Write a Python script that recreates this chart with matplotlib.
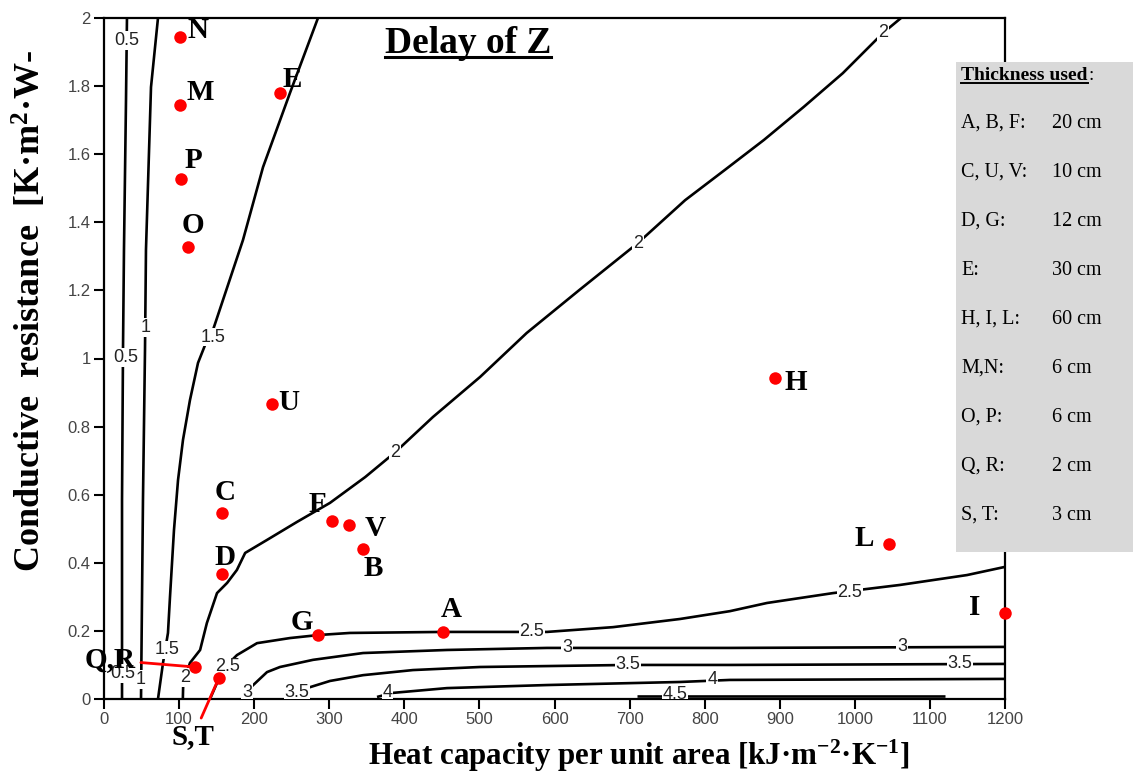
import numpy as np
import matplotlib
matplotlib.use('Agg')
import matplotlib.pyplot as plt
from matplotlib.patches import Rectangle
from matplotlib.lines import Line2D

plt.rcParams['mathtext.fontset'] = 'custom'
plt.rcParams['mathtext.rm'] = 'Liberation Serif:bold'
plt.rcParams['mathtext.bf'] = 'Liberation Serif:bold'
plt.rcParams['mathtext.it'] = 'Liberation Serif:bold'

SERIF = ['Liberation Serif', 'DejaVu Serif']
NARROW = ['Liberation Sans Narrow', 'Liberation Sans', 'DejaVu Sans']

# --- data ---
# iso-lines of the delay (hours), heat capacity [kJ/m2K] vs conductive resistance
c05_x = [30.6, 29.3, 26.6, 25.3, 24.0, 24.0]
c05_y = [2.0, 1.759, 1.319, 1.025, 0.584, 0.0]
c1_x = [71.9, 62.6, 55.9, 54.6, 51.9, 49.3]
c1_y = [2.0, 1.797, 1.319, 1.025, 0.584, 0.0]
c15_x = [285.0, 247.7, 211.8, 185.1, 158.5, 145.2, 137.2, 125.2, 114.5, 105.2, 98.6, 93.2, 87.9, 85.2, 78.6, 71.9]
c15_y = [2.0, 1.780, 1.562, 1.348, 1.172, 1.084, 1.054, 0.987, 0.878, 0.761, 0.643, 0.496, 0.300, 0.194, 0.106, 0.0]
c2_x = [105.0, 105.5, 114.5, 128, 137, 150.5, 164, 177, 188, 217, 257, 301, 348, 388, 438, 501, 563, 633, 711,
        774, 827, 879, 932, 984, 1037.5, 1061.5]
c2_y = [0.0, 0.045, 0.106, 0.144, 0.223, 0.311, 0.341, 0.379, 0.429, 0.467, 0.520, 0.576, 0.652, 0.725, 0.828,
        0.946, 1.075, 1.201, 1.339, 1.465, 1.554, 1.642, 1.739, 1.838, 1.956, 2.0]
c25_x = [141.2, 150.5, 162.5, 177.1, 203.8, 247.7, 286.3, 327.6, 451.5, 590.0, 677.9, 767.2, 833.7, 883.0,
         970.9, 1060.2, 1149.4, 1200]
c25_y = [0.0, 0.047, 0.097, 0.129, 0.164, 0.179, 0.188, 0.194, 0.197, 0.197, 0.211, 0.235, 0.258, 0.282,
         0.311, 0.335, 0.364, 0.388]
c3_x = [194.4, 217.1, 234.4, 278.4, 345.0, 456.8, 590.0, 833.7, 1200]
c3_y = [0.032, 0.079, 0.094, 0.115, 0.135, 0.144, 0.150, 0.150, 0.153]
c35_x = [270.4, 301.0, 345.0, 411.5, 500.8, 697.9, 833.7, 1200]
c35_y = [0.032, 0.053, 0.070, 0.085, 0.094, 0.100, 0.100, 0.103]
c4_x = [363.6, 384.9, 456.8, 590.0, 767.2, 833.7, 1200]
c4_y = [0.006, 0.018, 0.032, 0.041, 0.050, 0.056, 0.059]
c45_x = [710, 1120]
c45_y = [0.009, 0.009]

levels = ['0.5', '1', '1.5', '2', '2.5', '3', '3.5', '4', '4.5']
lines_x = [c05_x, c1_x, c15_x, c2_x, c25_x, c3_x, c35_x, c4_x, c45_x]
lines_y = [c05_y, c1_y, c15_y, c2_y, c25_y, c3_y, c35_y, c4_y, c45_y]

# where each iso-line carries its inline label
label_at = {
    '0.5': [(30.6, 1.935), (29.3, 1.004), (25.0, 0.076)],
    '1': [(55.9, 1.09), (49.3, 0.058)],
    '1.5': [(145.2, 1.063), (84.5, 0.144)],
    '2': [(107.9, 0.062), (387.6, 0.725), (711.2, 1.339), (1037.5, 1.956)],
    '2.5': [(164.0, 0.094), (570.0, 0.197), (993.6, 0.314)],
    '3': [(190.5, 0.02), (616.7, 0.15), (1062.8, 0.153)],
    '3.5': [(257.0, 0.02), (697.9, 0.100), (1140.0, 0.103)],
    '4': [(377.6, 0.018), (810.0, 0.057)],
    '4.5': [(760.5, 0.012)],
}

names = ['N', 'M', 'P', 'O', 'E', 'U', 'C', 'D', 'F', 'V', 'B', 'G', 'A', 'H', 'L', 'I', 'Q,R', 'S,T']
cap_x = [101, 101, 102.6, 112, 234, 224, 157, 157, 304, 326, 345, 285, 451.5, 894, 1045.5, 1200, 121, 153]
res_y = [1.944, 1.745, 1.527, 1.327, 1.780, 0.866, 0.546, 0.367, 0.523, 0.511, 0.44, 0.188, 0.197, 0.943,
         0.455, 0.253, 0.094, 0.062]

thick_groups = ['A, B, F:', 'C, U, V:', 'D, G:', 'E:', 'H, I, L:', 'M,N:', 'O, P:', 'Q, R:', 'S, T:']
thick_vals = ['20 cm', '10 cm', '12 cm', '30 cm', '60 cm', '6 cm', '6 cm', '2 cm', '3 cm']

# label offsets in pixels (dx right, dy down)
lab_off = {'N': (18, -7), 'M': (20, -12), 'P': (12, -19), 'O': (5, -22), 'E': (13, -13), 'U': (17, -2),
           'C': (3, -21), 'D': (3, -17), 'F': (-15, -16), 'V': (26, 3), 'B': (10, 19), 'G': (-16, -12),
           'A': (8, -22), 'H': (21, 5), 'L': (-25, -6), 'I': (-30, -5), 'Q,R': (-85, -7), 'S,T': (-26, 59)}

W, H = 1141, 776
fig = plt.figure(figsize=(W / 100, H / 100), dpi=100)
ax = fig.add_axes([104 / W, 1 - 699 / H, (1005 - 104) / W, (699 - 18) / H])

for lx, ly in zip(lines_x, lines_y):
    ax.plot(lx, ly, color='black', lw=1.9, solid_capstyle='butt', zorder=2)

for lev in levels:
    for (px, py) in label_at[lev]:
        ax.text(px, py, lev, family=NARROW, fontsize=13, color='#222222', ha='center', va='center',
                zorder=3, clip_on=True,
                bbox=dict(boxstyle='square,pad=0.05', facecolor='white', edgecolor='none'))

ax.plot(cap_x, res_y, 'o', color='#ff0000', markersize=9, markeredgewidth=0, zorder=5, clip_on=False)

for n, px, py in zip(names, cap_x, res_y):
    dx, dy = lab_off[n]
    kw = {}
    if n in ('Q,R', 'S,T'):
        kw['arrowprops'] = dict(arrowstyle='-', color='#ff0000', lw=2, shrinkA=2, shrinkB=0)
    ax.annotate(n, xy=(px, py), xytext=(dx * 0.72, -dy * 0.72), textcoords='offset points',
                ha='center', va='center', family=SERIF, fontweight='bold', fontsize=21,
                color='black', zorder=6, annotation_clip=False, **kw)

ax.set_xlim(0, 1200)
ax.set_ylim(0, 2)
ax.set_xticks(np.arange(0, 1201, 100))
ax.set_yticks(np.arange(0, 2.01, 0.2))
ax.set_xticklabels([f'{v:g}' for v in np.arange(0, 1201, 100)])
ax.set_yticklabels([f'{v:g}' for v in np.round(np.arange(0, 2.01, 0.2), 1)])
ax.tick_params(direction='out', length=7.5, width=1.5, pad=2, labelsize=12, labelcolor='#444444')
for lab in ax.get_xticklabels() + ax.get_yticklabels():
    lab.set_family(NARROW)
for s in ax.spines.values():
    s.set_linewidth(1.6)

fig.text(639 / W, 1 - 765 / H, 'Heat capacity per unit area [kJ·m$^{-2}$·K$^{-1}$]', family=SERIF,
         fontweight='bold', fontsize=22.3, ha='center', va='baseline')
fig.text(30 / W, 1 - 311 / H, 'Conductive  resistance  [K·m$^{2}$·W-', family=SERIF, fontweight='bold',
         fontsize=26, ha='center', va='center', rotation=90)

title = fig.text(468 / W, 1 - 53 / H, 'Delay of Z', family=SERIF, fontweight='bold', fontsize=27,
                 ha='center', va='baseline')

# thickness box
fig.add_artist(Rectangle((956 / W, 1 - 552 / H), (1133 - 956) / W, (552 - 62) / H, transform=fig.transFigure,
                         facecolor='#d9d9d9', edgecolor='none', zorder=10))
head = fig.text(961 / W, 1 - 80 / H, 'Thickness used', family=SERIF, fontweight='bold', fontsize=14,
                ha='left', va='baseline', zorder=11)
row_y = 123
for g, v in zip(thick_groups, thick_vals):
    fig.text(961 / W, 1 - (row_y + 5) / H, g, family=SERIF, fontsize=14.5, ha='left', va='baseline', zorder=11)
    fig.text(1052 / W, 1 - (row_y + 5) / H, v, family=SERIF, fontsize=14.5, ha='left', va='baseline', zorder=11)
    row_y += 49

# underlines for title and box header
fig.canvas.draw()
r = fig.canvas.get_renderer()
for t, gap, lw in [(title, 4, 2.2), (head, 3, 1.4)]:
    bb = t.get_window_extent(r)
    x_base = t.get_position()[1] * H
    yl = (x_base - gap) / H
    fig.add_artist(Line2D([bb.x0 / W, bb.x1 / W], [yl, yl], transform=fig.transFigure, color='black',
                          lw=lw, zorder=12))
hb = head.get_window_extent(r)
fig.text(hb.x1 / W + 0.001, 1 - 80 / H, ':', family=SERIF, fontsize=14, ha='left', va='baseline', zorder=11)

fig.savefig('out.png', dpi=100)
